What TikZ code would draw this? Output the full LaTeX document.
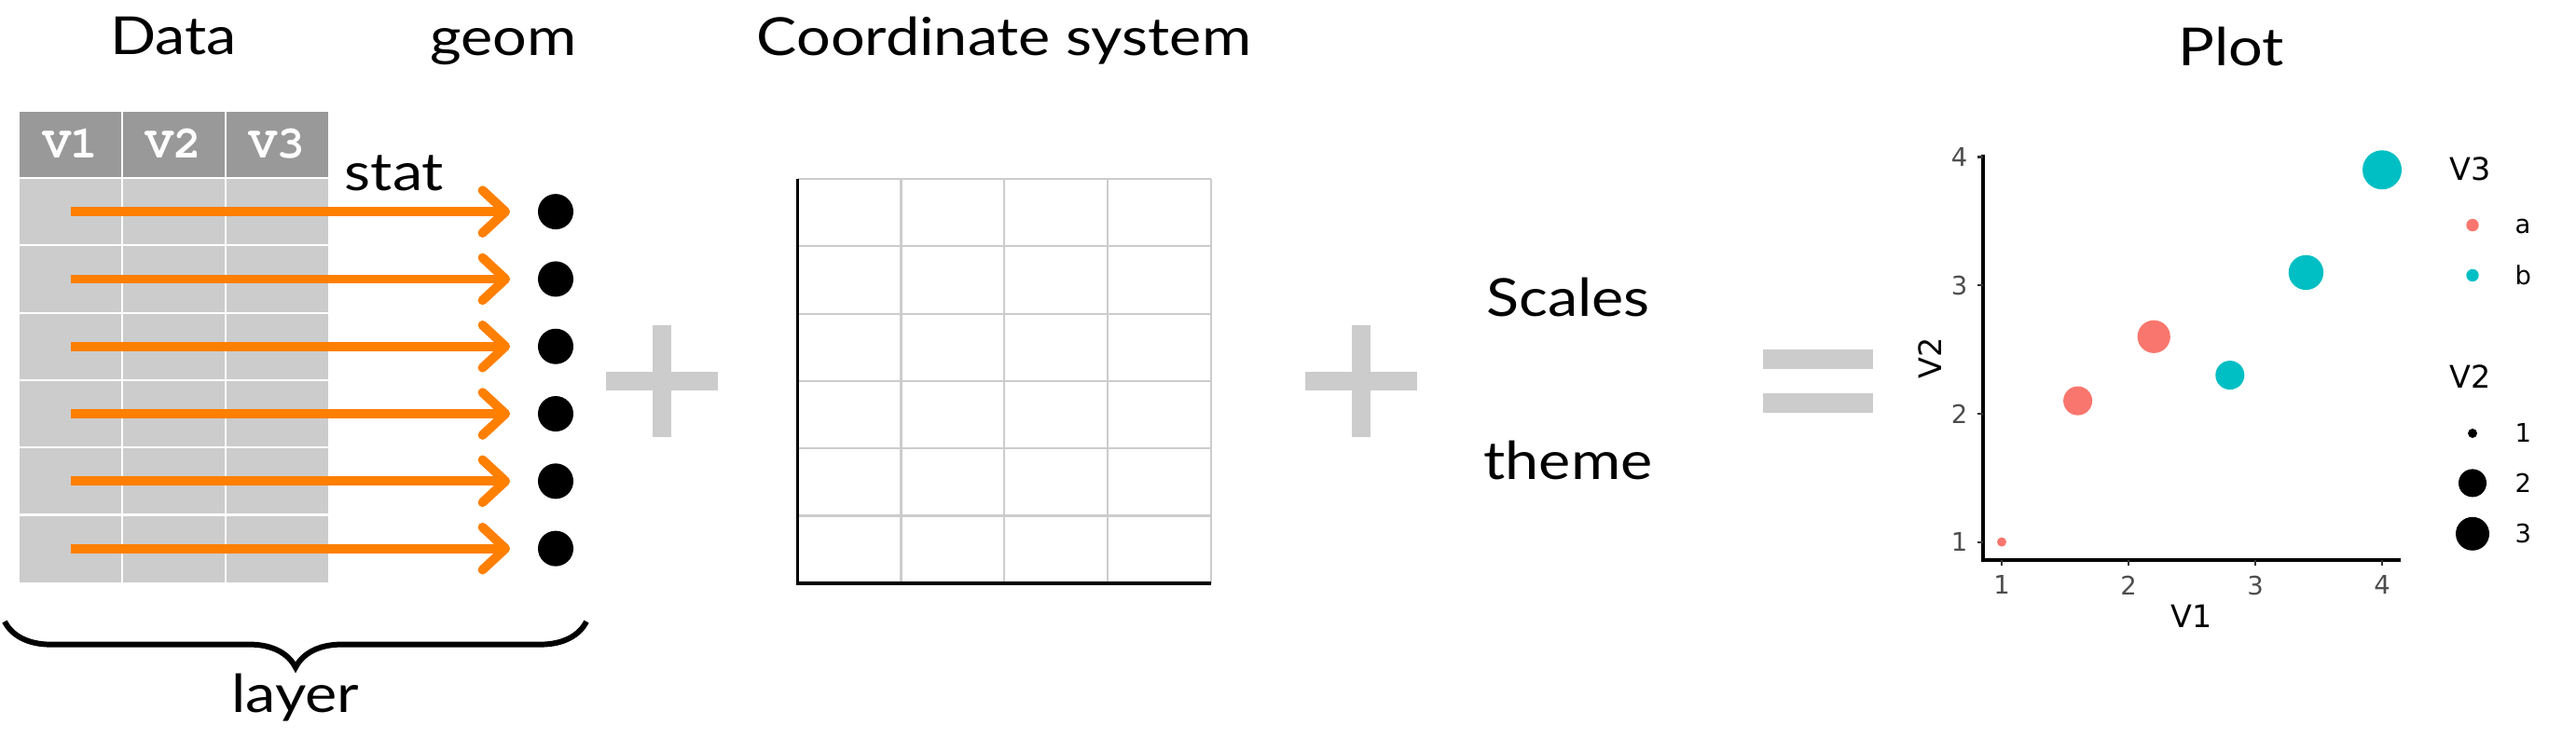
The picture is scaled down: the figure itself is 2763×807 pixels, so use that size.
\documentclass[tikz,border=0pt]{standalone}
\usepackage{fontspec}
\setmainfont{Lato}
\newfontfamily\handfont[FakeStretch=1.15]{Lato}
\newfontfamily\plotfont{DejaVu Sans}
\newfontfamily\headfont{TeX Gyre Cursor}
\usetikzlibrary{arrows.meta,decorations.pathreplacing}

\definecolor{statorange}{HTML}{FF7F00}
\definecolor{cellgray}{HTML}{CCCCCC}
\definecolor{headgray}{HTML}{999999}
\definecolor{ptred}{HTML}{F8766D}
\definecolor{ptcyan}{HTML}{00BFC4}
\definecolor{ticktext}{HTML}{4D4D4D}

\begin{document}
\begin{tikzpicture}
    [ x=0.01cm
    , y=-0.01cm
    , hand/.style={font=\handfont\fontsize{16}{18}\selectfont, anchor=base, inner sep=0pt}
    , colhead/.style={font=\headfont\bfseries\fontsize{14}{16}\selectfont, text=white, inner sep=0pt}
    , statarrow/.style={draw=statorange, line width=2.8pt, -{Straight Barb[length=7pt, width=13pt, round]}, shorten >=8.3pt}
    , geomdot/.style={circle, fill=black, inner sep=0pt, minimum size=0.38cm}
    , symbolbar/.style={fill=cellgray}
    , tableline/.style={draw=white, line width=0.6pt}
    , gridline/.style={draw=cellgray, line width=0.6pt}
    , axisline/.style={draw=black, line width=0.9pt}
    , tickmark/.style={draw=black!80, line width=0.6pt}
    , ticklabel/.style={font=\plotfont\fontsize{7.8}{9}\selectfont, text=ticktext, inner sep=0pt}
    , plottitle/.style={font=\plotfont\fontsize{9.5}{11}\selectfont, inner sep=0pt}
    , legendlabel/.style={font=\plotfont\fontsize{7.8}{9}\selectfont, inner sep=0pt, anchor=west}
    ]
  \useasboundingbox (0,0) rectangle (2763,807);

  \fill[headgray] (21,120) rectangle (352,191);
  \fill[cellgray] (21,191) rectangle (352,625);
  \foreach \x in {131.3,241.7}
    \draw[tableline] (\x,120) -- (\x,625);
  \foreach \k in {0,...,5}
    \draw[tableline] (21,{191+72.3*\k}) -- (352,{191+72.3*\k});
  \node[colhead] (v1) at (76,154) {V1};
  \node[colhead] (v2) at (186.5,154) {V2};
  \node[colhead] (v3) at (297,154) {V3};

  \foreach \i in {1,...,6} {
    \coordinate (r\i) at (76,{191+72.3*(\i-0.5)});
    \node[geomdot] (g\i) at (596,{191+72.3*(\i-0.5)}) {};
    \draw[statarrow] (r\i) -- (g\i);
  }

  \node[hand] (data) at (186,59) {Data};
  \node[hand] (geom) at (540,60) {geom};
  \node[hand] (stat) at (423,205) {stat};

  \coordinate (braceL) at (5,667);
  \coordinate (braceR) at (629,667);
  \draw[decorate, decoration={brace, mirror, amplitude=14pt}, line width=1.7pt] (braceL) -- (braceR);
  \node[hand] (layer) at (317,765) {layer};

  \fill[symbolbar] (650,399) rectangle (770,419);
  \fill[symbolbar] (700,349) rectangle (720,469);

  \node[hand] (coord) at (1077,60) {Coordinate system};
  \foreach \k in {1,...,4}
    \draw[gridline] ({855.6+110.85*\k},192) -- ({855.6+110.85*\k},626);
  \foreach \k in {0,...,5}
    \draw[gridline] (855.6,{192+72.3*\k}) -- (1299,{192+72.3*\k});
  \draw[axisline] (855.6,192) -- (855.6,626) -- (1299,626);

  \fill[symbolbar] (1400,399) rectangle (1520,419);
  \fill[symbolbar] (1450,349) rectangle (1470,469);

  \node[hand] (scales) at (1682,340) {Scales};
  \node[hand] (theme) at (1682,515) {theme};

  \fill[symbolbar] (1891,375) rectangle (2009,396);
  \fill[symbolbar] (1891,422) rectangle (2009,443);

  \node[hand] (plot) at (2393,71) {Plot};
  \draw[axisline] (2127,166) -- (2127,601) -- (2575,601);
  \foreach \v in {1,...,4} {
    \draw[tickmark] ({2147+136*(\v-1)},601) -- ({2147+136*(\v-1)},607);
    \node[ticklabel, anchor=north] (xt\v) at ({2147+136*(\v-1)},617) {\v};
    \draw[tickmark] (2127,{581.6-137.7*(\v-1)}) -- (2121,{581.6-137.7*(\v-1)});
    \node[ticklabel, anchor=east] (yt\v) at (2111,{581.6-137.7*(\v-1)}) {\v};
  }
  \foreach \vx/\vy/\col/\r in {1/1/ptred/5, 1.6/2.1/ptred/15.5, 2.2/2.6/ptred/17.6,
                               2.8/2.3/ptcyan/15.5, 3.4/3.1/ptcyan/18.7, 4/3.9/ptcyan/21}
    \fill[\col] ({2147+136*(\vx-1)},{581.6-137.7*(\vy-1)}) circle (\r);
  \node[plottitle, anchor=base] (xtitle) at (2351,674) {V1};
  \node[plottitle, anchor=base, rotate=90] (ytitle) at (2082,384) {V2};

  \node[plottitle, anchor=base west] (legcol) at (2627,194) {V3};
  \fill[ptred] (2652,241.6) circle (6.7);
  \node[legendlabel] (leg a) at (2697,243) {a};
  \fill[ptcyan] (2652,295.5) circle (6.7);
  \node[legendlabel] (leg b) at (2697,295.5) {b};
  \node[plottitle, anchor=base west] (legsize) at (2627,417) {V2};
  \foreach \s/\y/\r in {1/465/5, 2/518.4/15, 3/572.8/18} {
    \fill[black] (2652,\y) circle (\r);
    \node[legendlabel] (leg\s) at (2697,\y) {\s};
  }
\end{tikzpicture}
\end{document}
